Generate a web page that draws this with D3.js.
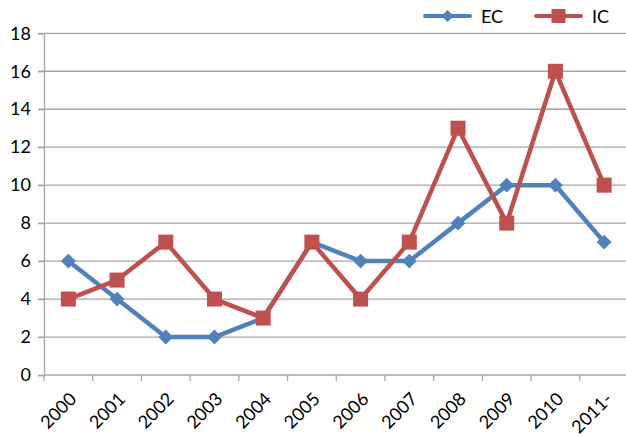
<!DOCTYPE html>
<html>
<head>
<meta charset="utf-8">
<script src="https://cdn.jsdelivr.net/npm/d3@7"></script>
<style>
  html, body { margin: 0; padding: 0; background: #fff; }
  text { font-family: Lato, "Open Sans", sans-serif; fill: #000; }
</style>
</head>
<body>
<svg id="chart" width="626" height="438"></svg>
<script>
const years = ["2000","2001","2002","2003","2004","2005","2006","2007","2008","2009","2010","2011-"];
const ecValues = [6, 4, 2, 2, 3, 7, 6, 6, 8, 10, 10, 7];
const icValues = [4, 5, 7, 4, 3, 7, 4, 7, 13, 8, 16, 10];
const yTicks = [0, 2, 4, 6, 8, 10, 12, 14, 16, 18];

const svg = d3.select("#chart");
const plotLeft = 44, plotRight = 628.5, plotTop = 33.3, plotBottom = 375;
const fontSize = 18;

const x = d3.scaleBand().domain(years).range([plotLeft, plotRight]);
const y = d3.scaleLinear().domain([0, 18]).range([plotBottom, plotTop]);
const cx = d => x(d) + x.bandwidth() / 2;

// horizontal gridlines
svg.append("g").selectAll("line").data(yTicks.filter(t => t > 0)).join("line")
  .attr("x1", plotLeft - 6).attr("x2", plotRight)
  .attr("y1", d => y(d)).attr("y2", d => y(d))
  .attr("stroke", "#a6a6a6").attr("stroke-width", 1.3);

// y axis
const yAxis = svg.append("g").attr("transform", `translate(${plotLeft},0)`)
  .call(d3.axisLeft(y).tickValues(yTicks).tickSize(6).tickPadding(7));
yAxis.select(".domain").attr("stroke", "#a6a6a6").attr("stroke-width", 1.3);
yAxis.selectAll(".tick line").attr("stroke", "#a6a6a6").attr("stroke-width", 1.3);
yAxis.selectAll("text").attr("font-size", fontSize).attr("font-family", "Lato, sans-serif");

// x axis: ticks sit between categories
const xg = svg.append("g");
xg.append("line").attr("x1", plotLeft).attr("x2", plotRight)
  .attr("y1", plotBottom).attr("y2", plotBottom)
  .attr("stroke", "#a6a6a6").attr("stroke-width", 1.3);
xg.selectAll("line.tk").data(years).join("line").attr("class", "tk")
  .attr("x1", d => x(d)).attr("x2", d => x(d))
  .attr("y1", plotBottom).attr("y2", plotBottom + 6)
  .attr("stroke", "#a6a6a6").attr("stroke-width", 1.3);
xg.selectAll("text").data(years).join("text")
  .attr("transform", d => `translate(${cx(d) + 6},${plotBottom + 22}) rotate(-45)`)
  .attr("text-anchor", "end")
  .attr("dominant-baseline", "middle")
  .attr("font-size", fontSize)
  .text(d => d);

const line = d3.line().x((d, i) => cx(years[i])).y(d => y(d));

// EC series
svg.append("path").datum(ecValues).attr("d", line)
  .attr("fill", "none").attr("stroke", "#4f81bd").attr("stroke-width", 4.5)
  .attr("stroke-linejoin", "round").attr("stroke-linecap", "round");
const diamond = d3.symbol().type(d3.symbolSquare).size(110);
svg.append("g").selectAll("path").data(ecValues).join("path")
  .attr("d", diamond)
  .attr("transform", (d, i) => `translate(${cx(years[i])},${y(d)}) rotate(45)`)
  .attr("fill", "#4f81bd");

// IC series
svg.append("path").datum(icValues).attr("d", line)
  .attr("fill", "none").attr("stroke", "#c0504d").attr("stroke-width", 4.5)
  .attr("stroke-linejoin", "round").attr("stroke-linecap", "round");
svg.append("g").selectAll("rect").data(icValues).join("rect")
  .attr("x", (d, i) => cx(years[i]) - 7.5).attr("y", d => y(d) - 7.5)
  .attr("width", 15).attr("height", 15)
  .attr("fill", "#c0504d");

// legend
const legend = [
  { name: "EC", color: "#4f81bd", x0: 425, shape: "diamond" },
  { name: "IC", color: "#c0504d", x0: 536, shape: "square" }
];
const ly = 16;
legend.forEach(l => {
  const g = svg.append("g");
  g.append("line").attr("x1", l.x0).attr("x2", l.x0 + 45)
    .attr("y1", ly).attr("y2", ly)
    .attr("stroke", l.color).attr("stroke-width", 4).attr("stroke-linecap", "round");
  if (l.shape === "diamond") {
    g.append("path").attr("d", d3.symbol().type(d3.symbolSquare).size(75))
      .attr("transform", `translate(${l.x0 + 22.5},${ly}) rotate(45)`)
      .attr("fill", l.color);
  } else {
    g.append("rect").attr("x", l.x0 + 22.5 - 7).attr("y", ly - 7)
      .attr("width", 14).attr("height", 14).attr("fill", l.color);
  }
  g.append("text").attr("x", l.x0 + 56).attr("y", ly)
    .attr("dominant-baseline", "central").attr("font-size", fontSize).text(l.name);
});
</script>
</body>
</html>
